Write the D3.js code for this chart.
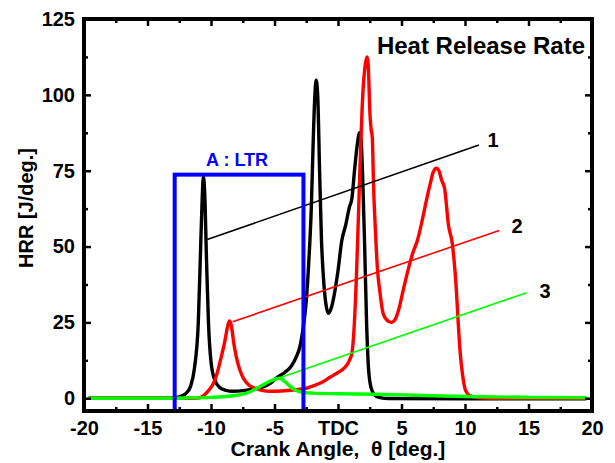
<!DOCTYPE html>
<html>
<head>
<meta charset="utf-8">
<script src="https://cdn.jsdelivr.net/npm/d3@7"></script>
<style>
  html, body { margin: 0; padding: 0; background: #fff; }
  svg { display: block; font-family: "Liberation Sans", Arial, sans-serif; font-weight: bold; }
</style>
</head>
<body>
<svg id="chart" width="615" height="463"></svg>
<script>
// ---------------- data ----------------
const xTickValues = [-20, -15, -10, -5, 0, 5, 10, 15, 20];
const xTickLabels = ["-20", "-15", "-10", "-5", "TDC", "5", "10", "15", "20"];
const xMinorTicks = [-17.5, -12.5, -7.5, -2.5, 2.5, 7.5, 12.5, 17.5];
const yTickValues = [0, 25, 50, 75, 100, 125];
const yMinorTicks = [12.5, 37.5, 62.5, 87.5, 112.5];

// Case 1 (black)
const angle1 = [-19.6, -14, -13, -12.5, -12, -11.6, -11.3, -11.0, -10.85, -10.7, -10.6, -10.5, -10.35, -10.2, -10.0, -9.7, -9.3, -8.8, -8.3, -7.5, -6.5, -6.0, -5.3, -4.8, -4.2, -3.7, -3.3, -3.0, -2.75, -2.5, -2.3, -2.1, -1.95, -1.82, -1.72, -1.6, -1.45, -1.3, -1.15, -0.95, -0.75, -0.55, -0.3, 0, 0.3, 0.6, 0.9, 1.1, 1.3, 1.5, 1.7, 1.82, 1.95, 2.1, 2.25, 2.4, 2.6, 2.9, 3.3, 4, 10, 19.5];
const hrr1   = [0, 0, 0.1, 0.5, 1.5, 4, 10, 25, 45, 65, 73, 68, 45, 25, 12, 6, 3.5, 2.6, 2.3, 2.5, 3.2, 3.6, 5, 6.8, 8.5, 10.5, 13.5, 17, 23, 32, 45, 63, 85, 100, 104.8, 100, 75, 52, 40, 31, 28, 29.5, 34, 42, 52, 57, 63, 66, 75, 83, 87.5, 85, 72, 50, 25, 10, 3.5, 1, 0.2, -0.1, -0.2, -0.2];

// Case 2 (red)
const angle2 = [-19.6, -11.5, -11, -10.6, -10.2, -9.8, -9.5, -9.2, -8.9, -8.7, -8.55, -8.4, -8.2, -8.0, -7.7, -7.4, -7.0, -6.5, -6.0, -5.3, -4.5, -3.5, -2.5, -2.0, -1.3, -0.6, 0, 0.5, 0.9, 1.1, 1.25, 1.45, 1.7, 1.95, 2.15, 2.28, 2.36, 2.42, 2.5, 2.6, 2.7, 2.8, 2.95, 3.1, 3.3, 3.55, 3.85, 4.2, 4.5, 4.8, 5.1, 5.5, 5.9, 6.25, 6.7, 7.0, 7.25, 7.5, 7.75, 7.95, 8.15, 8.4, 8.7, 9.0, 9.15, 9.3, 9.45, 9.6, 9.8, 10.05, 10.4, 11, 12, 19.5];
const hrr2   = [0, 0, 0.1, 0.8, 2.5, 5, 8.5, 13.5, 19, 23.5, 25.5, 24, 18, 13.5, 9, 6.2, 4.3, 3.2, 2.6, 2.3, 2.4, 2.7, 3.3, 4, 5.2, 7, 8.5, 10, 12.5, 15, 22, 40, 72, 100, 110, 112.5, 111, 106, 95, 89, 86, 70, 55, 43, 35, 28, 25.8, 25, 26, 29.5, 35, 42, 48, 52, 60, 66, 70.5, 74.5, 75.8, 75, 72, 69, 57, 51, 45, 37, 26, 16, 8, 2.5, 0.8, 0.2, 0, 0];

// Case 3 (green)
const angle3 = [-19.6, -14, -12, -10, -9, -8, -7.2, -6.5, -6.0, -5.4, -4.9, -4.65, -4.4, -4.0, -3.6, -3.2, -2.7, -2.0, 0, 3, 6, 10, 15, 19.5];
const hrr3   = [0, 0, 0.1, 0.3, 0.5, 1, 1.7, 3, 4.2, 5.5, 6.4, 6.6, 6.2, 4.8, 3.3, 2.4, 1.9, 1.7, 1.5, 1.3, 1.0, 0.6, 0.3, 0.2];

// Annotation leader lines (from -> to, in data units) and labels
const leaderIds    = ["1", "2", "3"];
const leaderFromX  = [-10.3, -8.3, -4.7];
const leaderFromY  = [52.3, 25.2, 6.6];
const leaderToX    = [11.1, 12.7, 14.85];
const leaderToY    = [83.5, 55.3, 34.8];
const leaderLabelX = [12.2, 14.1, 16.3];
const leaderLabelY = [82.9, 54.4, 32.9];
const seriesColors = ["#000000", "#ff0000", "#00ff00"];

// LTR box (data units)
const ltrBoxX = [-12.86, -2.72];
const ltrBoxTop = 73.7;
const ltrLabel = "A : LTR";

// ---------------- chart ----------------
const svg = d3.select("#chart");
const pL = 84, pR = 592, pT = 19, pB = 411;

const x = d3.scaleLinear().domain([-20, 20]).range([pL, pR]);
const y = d3.scaleLinear().domain([-4.2, 125]).range([pB, pT]);

const line = d3.line().x(d => x(d[0])).y(d => y(d[1])).curve(d3.curveMonotoneX);

svg.append("clipPath").attr("id", "clip")
  .append("rect").attr("x", pL).attr("y", pT).attr("width", pR - pL).attr("height", pB - pT);

const plot = svg.append("g").attr("clip-path", "url(#clip)");

const series = [
  d3.zip(angle1, hrr1),
  d3.zip(angle2, hrr2),
  d3.zip(angle3, hrr3)
];
series.forEach((s, i) => {
  plot.append("path").datum(s)
    .attr("d", line)
    .attr("fill", "none")
    .attr("stroke", seriesColors[i])
    .attr("stroke-width", 3.4)
    .attr("stroke-linejoin", "round")
    .attr("stroke-linecap", "round");
});

// leader lines
leaderIds.forEach((id, i) => {
  svg.append("line")
    .attr("x1", x(leaderFromX[i])).attr("y1", y(leaderFromY[i]))
    .attr("x2", x(leaderToX[i])).attr("y2", y(leaderToY[i]))
    .attr("stroke", seriesColors[i]).attr("stroke-width", 1.6);
  svg.append("text")
    .attr("x", x(leaderLabelX[i])).attr("y", y(leaderLabelY[i]))
    .attr("text-anchor", "middle")
    .attr("font-size", 20)
    .attr("fill", "#000")
    .text(id);
});

// LTR box
svg.append("rect")
  .attr("x", x(ltrBoxX[0])).attr("y", y(ltrBoxTop))
  .attr("width", x(ltrBoxX[1]) - x(ltrBoxX[0]))
  .attr("height", pB - y(ltrBoxTop))
  .attr("fill", "none").attr("stroke", "#0000ff").attr("stroke-width", 4);
svg.append("text")
  .attr("x", (x(ltrBoxX[0]) + x(ltrBoxX[1])) / 2 - 2)
  .attr("y", y(ltrBoxTop) - 9)
  .attr("text-anchor", "middle")
  .attr("font-size", 18)
  .attr("fill", "#0000ff")
  .text(ltrLabel);

// axes (inward ticks on all four sides)
function styleAxis(g) {
  g.select(".domain").remove();
  g.selectAll(".tick line").attr("stroke", "#000").attr("stroke-width", 2.5);
  g.selectAll(".tick text").attr("fill", "#000").attr("font-size", 20).attr("font-weight", "bold")
    .attr("font-family", '"Liberation Sans", Arial, sans-serif');
}

svg.append("g").attr("transform", `translate(0,${pB})`)
  .call(d3.axisBottom(x).tickValues(xTickValues).tickSizeInner(-7).tickSizeOuter(0).tickPadding(10)
    .tickFormat((d, i) => xTickLabels[i]))
  .call(styleAxis);
svg.append("g").attr("transform", `translate(0,${pB})`)
  .call(d3.axisBottom(x).tickValues(xMinorTicks).tickSizeInner(-4).tickSizeOuter(0).tickFormat(""))
  .call(styleAxis);
svg.append("g").attr("transform", `translate(0,${pT})`)
  .call(d3.axisTop(x).tickValues(xTickValues).tickSizeInner(-7).tickSizeOuter(0).tickFormat(""))
  .call(styleAxis);
svg.append("g").attr("transform", `translate(0,${pT})`)
  .call(d3.axisTop(x).tickValues(xMinorTicks).tickSizeInner(-4).tickSizeOuter(0).tickFormat(""))
  .call(styleAxis);

svg.append("g").attr("transform", `translate(${pL},0)`)
  .call(d3.axisLeft(y).tickValues(yTickValues).tickSizeInner(-7).tickSizeOuter(0).tickPadding(9)
    .tickFormat(d3.format("d")))
  .call(styleAxis);
svg.append("g").attr("transform", `translate(${pL},0)`)
  .call(d3.axisLeft(y).tickValues(yMinorTicks).tickSizeInner(-4).tickSizeOuter(0).tickFormat(""))
  .call(styleAxis);
svg.append("g").attr("transform", `translate(${pR},0)`)
  .call(d3.axisRight(y).tickValues(yTickValues).tickSizeInner(-7).tickSizeOuter(0).tickFormat(""))
  .call(styleAxis);
svg.append("g").attr("transform", `translate(${pR},0)`)
  .call(d3.axisRight(y).tickValues(yMinorTicks).tickSizeInner(-4).tickSizeOuter(0).tickFormat(""))
  .call(styleAxis);

// frame
svg.append("rect")
  .attr("x", pL).attr("y", pT).attr("width", pR - pL).attr("height", pB - pT)
  .attr("fill", "none").attr("stroke", "#000").attr("stroke-width", 4);

// titles
svg.append("text")
  .attr("x", 585).attr("y", 54)
  .attr("text-anchor", "end")
  .attr("font-size", 24)
  .text("Heat Release Rate");

svg.append("text")
  .attr("x", 338).attr("y", 456)
  .attr("text-anchor", "middle")
  .attr("font-size", 21)
  .text("Crank Angle,  \u03B8 [deg.]")
  .attr("xml:space", "preserve")
  .style("white-space", "pre");

svg.append("text")
  .attr("transform", "translate(33,208) rotate(-90)")
  .attr("text-anchor", "middle")
  .attr("font-size", 20)
  .text("HRR [J/deg.]");
</script>
</body>
</html>
